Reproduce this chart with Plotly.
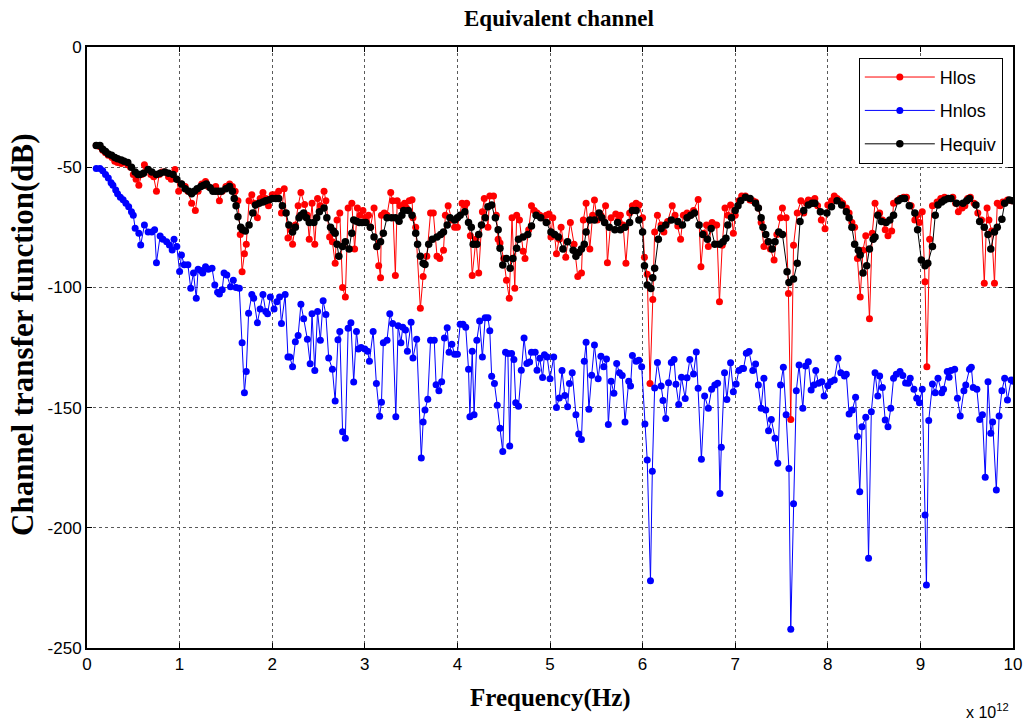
import plotly.graph_objects as go

# ---------------- data (frequency in units of 1e12 Hz, values in dB) ----------------
eq_f = [
    0.10, 0.14, 0.17, 0.20, 0.23, 0.265, 0.30, 0.33, 0.37, 0.40,
    0.44, 0.48, 0.52, 0.55, 0.57, 0.61, 0.66, 0.70, 0.75, 0.79,
    0.84, 0.88, 0.93, 0.97, 1.02, 1.06, 1.10, 1.13, 1.16, 1.19,
    1.23, 1.26, 1.29, 1.33, 1.36, 1.39, 1.42, 1.45, 1.50, 1.54,
    1.57, 1.59, 1.61, 1.63, 1.66, 1.68, 1.71, 1.75, 1.79, 1.82,
    1.86, 1.90, 1.93, 1.97, 2.00, 2.04, 2.07, 2.11, 2.15, 2.18,
    2.22, 2.25, 2.29, 2.31, 2.34, 2.37, 2.40, 2.45, 2.48, 2.51,
    2.56, 2.59, 2.63, 2.66, 2.68, 2.70, 2.72, 2.76, 2.79, 2.83,
    2.86, 2.88, 2.91, 2.94, 2.97, 3.01, 3.06, 3.10, 3.13, 3.17,
    3.20, 3.24, 3.29, 3.33, 3.37, 3.40, 3.42, 3.47, 3.51, 3.55,
    3.57, 3.60, 3.63, 3.65, 3.69, 3.73, 3.78, 3.82, 3.85, 3.89,
    3.92, 3.97, 4.00, 4.03, 4.08, 4.12, 4.15, 4.17, 4.21, 4.23,
    4.26, 4.30, 4.33, 4.37, 4.41, 4.44, 4.46, 4.49, 4.53, 4.57,
    4.60, 4.64, 4.66, 4.71, 4.76, 4.80, 4.85, 4.90, 4.96, 5.01,
    5.05, 5.09, 5.14, 5.19, 5.25, 5.28, 5.31, 5.34, 5.37, 5.39,
    5.43, 5.48, 5.53, 5.56, 5.59, 5.64, 5.70, 5.73, 5.76, 5.81,
    5.86, 5.89, 5.93, 5.96, 6.00, 6.02, 6.05, 6.09, 6.11, 6.13,
    6.17, 6.20, 6.25, 6.31, 6.38, 6.43, 6.48, 6.52, 6.56, 6.61,
    6.65, 6.70, 6.74, 6.78, 6.83, 6.87, 6.90, 6.92, 6.96, 7.00,
    7.03, 7.06, 7.11, 7.16, 7.22, 7.25, 7.28, 7.30, 7.33, 7.36,
    7.40, 7.43, 7.47, 7.51, 7.56, 7.58, 7.63, 7.67, 7.70, 7.74,
    7.79, 7.83, 7.86, 7.92, 7.99, 8.04, 8.10, 8.15, 8.20, 8.23,
    8.26, 8.29, 8.33, 8.35, 8.38, 8.42, 8.45, 8.49, 8.51, 8.54,
    8.58, 8.63, 8.67, 8.71, 8.76, 8.80, 8.83, 8.88, 8.94, 8.97,
    9.01, 9.05, 9.08, 9.13, 9.16, 9.19, 9.23, 9.26, 9.30, 9.33,
    9.39, 9.46, 9.50, 9.53, 9.60, 9.64, 9.69, 9.73, 9.76, 9.80,
    9.83, 9.88, 9.91, 9.96, 10.0,
]
eq_db = [
    -41, -41, -42.5, -43.5, -44.5, -45, -46, -46.5, -47, -47.5,
    -48, -50, -52, -53, -53, -52.5, -51, -52, -53, -52.5,
    -52, -52.5, -53, -55, -57, -59, -60, -61, -60, -59,
    -58, -57.5, -57, -58.5, -60, -60, -60, -60, -59, -58,
    -60, -63, -66, -70.6, -75, -76, -76.5, -74, -69, -65.7,
    -65, -64.5, -64, -63.5, -63, -63, -63, -66, -69, -74,
    -77, -75, -71, -70, -69, -71, -73, -73, -71, -68.5,
    -67, -71, -75, -76.5, -77.5, -82, -87, -83, -81, -84,
    -77.5, -72, -72.5, -73, -73, -73, -75, -79, -83, -81,
    -77.5, -71, -71, -71, -72.5, -70, -68, -68, -70, -77.5,
    -82, -87, -90, -90.5, -82, -80, -79, -78, -77, -74,
    -71, -72, -71, -70, -68.5, -73, -75, -82, -82, -78,
    -74, -71, -66.4, -65.7, -71, -76, -83.7, -90.7, -88, -92,
    -88, -83.7, -80, -79, -78, -74.5, -70, -71, -73, -77,
    -78, -79, -84, -81, -84.5, -87, -85.5, -84, -82, -77,
    -72, -72, -69, -71, -73, -75, -76, -73, -76, -75,
    -73, -68, -68, -72, -77, -91, -99, -100.5, -96, -92,
    -80, -75.5, -74, -72, -72.6, -74, -71, -70, -69, -74,
    -78, -80, -75.5, -82, -82, -81, -79.6, -74, -71, -68,
    -66, -64, -62.5, -63, -65, -67, -71, -75, -78, -81,
    -84, -81, -77, -78, -93.5, -98, -96.5, -90, -72.6, -68,
    -65.7, -65, -65, -68.5, -69, -66.4, -64, -65.7, -68.5, -71,
    -75, -82, -84.5, -86.5, -94, -91, -84, -80, -79, -70,
    -72.6, -73, -72, -70, -64, -63, -63, -66, -69, -76,
    -88.6, -91, -90, -83, -70, -65.7, -64.5, -63.6, -63, -63,
    -65, -65, -64, -63, -65.7, -72.6, -75, -78, -84, -77,
    -75, -71.6, -65, -63.6, -64,
]

los_f = [
    0.10, 0.14, 0.17, 0.20, 0.23, 0.27, 0.30, 0.33, 0.37, 0.40,
    0.44, 0.47, 0.50, 0.53, 0.56, 0.59, 0.62, 0.65, 0.69, 0.72,
    0.75, 0.78, 0.81, 0.84, 0.88, 0.91, 0.95, 0.99, 1.02, 1.06,
    1.09, 1.13, 1.17, 1.20, 1.24, 1.28, 1.31, 1.35, 1.39, 1.43,
    1.46, 1.50, 1.54, 1.57, 1.60, 1.63, 1.655, 1.675, 1.70, 1.72,
    1.75, 1.78, 1.81, 1.84, 1.87, 1.90, 1.93, 1.96, 2.00, 2.03,
    2.07, 2.10, 2.13, 2.17, 2.20, 2.22, 2.25, 2.28, 2.31, 2.35,
    2.38, 2.40, 2.43, 2.46, 2.49, 2.52, 2.56, 2.58, 2.62, 2.65,
    2.68, 2.70, 2.73, 2.76, 2.79, 2.82, 2.86, 2.89, 2.92, 2.95,
    2.98, 3.01, 3.04, 3.06, 3.10, 3.13, 3.15, 3.17, 3.18, 3.21,
    3.24, 3.28, 3.30, 3.33, 3.35, 3.38, 3.40, 3.43, 3.45, 3.48,
    3.51, 3.52, 3.55, 3.60, 3.63, 3.67, 3.71, 3.74, 3.78, 3.81,
    3.85, 3.87, 3.90, 3.94, 3.97, 4.00, 4.05, 4.08, 4.10, 4.14,
    4.16, 4.20, 4.23, 4.27, 4.29, 4.33, 4.35, 4.39, 4.42, 4.44,
    4.46, 4.50, 4.53, 4.56, 4.59, 4.62, 4.64, 4.67, 4.71, 4.73,
    4.77, 4.80, 4.83, 4.86, 4.89, 4.92, 4.96, 4.99, 5.01, 5.03,
    5.07, 5.10, 5.12, 5.17, 5.22, 5.26, 5.30, 5.34, 5.36, 5.39,
    5.43, 5.46, 5.48, 5.51, 5.55, 5.60, 5.62, 5.66, 5.71, 5.74,
    5.76, 5.79, 5.82, 5.86, 5.89, 5.93, 5.96, 6.00, 6.02, 6.05,
    6.08, 6.11, 6.13, 6.16, 6.20, 6.23, 6.27, 6.32, 6.35, 6.38,
    6.41, 6.44, 6.48, 6.51, 6.55, 6.60, 6.63, 6.66, 6.69, 6.71,
    6.75, 6.78, 6.80, 6.83, 6.86, 6.89, 6.92, 6.95, 6.98, 7.00,
    7.04, 7.07, 7.11, 7.16, 7.19, 7.22, 7.25, 7.28, 7.31, 7.35,
    7.38, 7.42, 7.45, 7.49, 7.51, 7.55, 7.575, 7.60, 7.63, 7.67,
    7.71, 7.74, 7.77, 7.79, 7.83, 7.86, 7.89, 7.93, 7.97, 8.00,
    8.04, 8.07, 8.10, 8.13, 8.16, 8.20, 8.23, 8.26, 8.29, 8.32,
    8.35, 8.38, 8.41, 8.45, 8.48, 8.51, 8.56, 8.59, 8.62, 8.65,
    8.69, 8.71, 8.75, 8.78, 8.82, 8.85, 8.90, 8.94, 8.96, 8.99,
    9.02, 9.05, 9.07, 9.10, 9.13, 9.18, 9.22, 9.26, 9.30, 9.35,
    9.38, 9.41, 9.45, 9.48, 9.51, 9.54, 9.58, 9.62, 9.66, 9.69,
    9.72, 9.74, 9.77, 9.80, 9.83, 9.86, 9.89, 9.94, 9.98,
]
los_db = [
    -41, -41.5, -43, -44, -45, -46, -47.5, -48, -48.5, -48,
    -49, -50, -53, -55, -57.5, -53, -49, -51, -53, -54,
    -60, -53, -52, -52, -54, -55, -51, -60, -57, -58,
    -60, -65, -68, -60, -57, -56, -58, -59, -58, -64,
    -60, -58, -57, -58, -60, -64, -78, -93.5, -86, -82,
    -64, -61.5, -65, -71, -63, -60.5, -63, -66, -61.5, -61.5,
    -60, -69, -59, -79.5, -76, -82, -74, -66, -60.5, -65.5,
    -70, -80, -65, -82, -63, -66, -60, -64, -79, -81,
    -90, -72, -69, -100, -104, -67, -65, -84, -67, -70,
    -68, -71, -70, -75, -67, -83, -91, -96, -70, -69,
    -70, -60.5, -64, -95, -64, -66, -66, -65, -67, -64,
    -63.5, -71, -75, -108.7, -95.5, -87, -69, -69, -87, -88,
    -84.5, -70, -66, -72, -75, -75, -65, -66, -65, -78.5,
    -95, -80, -94, -68.5, -63, -75, -62, -62, -70, -80,
    -81.5, -88, -97, -104.5, -71, -100.4, -70, -72, -85, -88,
    -76, -66, -68, -69, -70, -71, -70, -69.5, -79, -71,
    -86, -80, -75, -87.5, -73, -82, -95.5, -94, -72, -65,
    -84, -70, -63.6, -72, -70, -66, -89.7, -71, -69.5, -72,
    -70, -74, -90, -69, -66, -65, -65.7, -71, -87.5, -94.5,
    -140, -105, -77, -70, -74, -77, -72.6, -66, -70, -74.5,
    -80, -70, -69, -70, -68, -63.4, -91.4, -77.5, -74, -83,
    -73, -74, -74, -106, -82.5, -67, -70, -65.7, -77.5, -70,
    -64, -62, -62, -63.6, -64, -64.5, -67, -73, -83, -81,
    -84, -88.6, -78, -71, -67, -71, -102.5, -155, -82.5, -69,
    -64, -69, -65, -63.6, -64, -63, -66, -72, -75.6, -65.7,
    -64, -62, -63, -64, -65, -67, -69, -73, -75, -88,
    -104, -84.5, -78.5, -113, -77.5, -65, -69, -72, -76, -78.5,
    -76.5, -65, -64, -63, -62.5, -62.5, -66, -72, -70, -73,
    -68.5, -97.6, -133, -80, -66, -64.5, -63, -62.5, -63, -62.5,
    -65, -68.5, -67, -66, -63, -62.5, -65, -69, -72, -98.3,
    -67, -72, -76.5, -98.3, -65, -66, -64.5, -63.6, -64,
]

nlos_f = [
    0.10, 0.14, 0.17, 0.20, 0.23, 0.26, 0.28, 0.31, 0.33, 0.36,
    0.39, 0.42, 0.45, 0.48, 0.50, 0.52, 0.56, 0.58, 0.62, 0.66,
    0.70, 0.73, 0.75, 0.79, 0.82, 0.86, 0.89, 0.92, 0.94, 0.97,
    1.00, 1.02, 1.05, 1.09, 1.12, 1.15, 1.18, 1.20, 1.23, 1.25,
    1.28, 1.31, 1.35, 1.38, 1.41, 1.43, 1.46, 1.48, 1.51, 1.55,
    1.58, 1.61, 1.645, 1.675, 1.70, 1.72, 1.745, 1.78, 1.80, 1.84,
    1.87, 1.90, 1.93, 1.95, 1.98, 2.02, 2.05, 2.08, 2.10, 2.14,
    2.17, 2.19, 2.22, 2.25, 2.28, 2.31, 2.34, 2.38, 2.41, 2.43,
    2.46, 2.49, 2.52, 2.55, 2.58, 2.61, 2.65, 2.68, 2.71, 2.73,
    2.76, 2.79, 2.82, 2.85, 2.88, 2.91, 2.93, 2.96, 3.00, 3.03,
    3.05, 3.09, 3.125, 3.16, 3.18, 3.20, 3.24, 3.27, 3.30, 3.335,
    3.36, 3.39, 3.41, 3.44, 3.46, 3.50, 3.52, 3.56, 3.61, 3.63,
    3.65, 3.68, 3.71, 3.75, 3.77, 3.80, 3.83, 3.86, 3.89, 3.91,
    3.94, 3.97, 4.00, 4.03, 4.06, 4.09, 4.12, 4.135, 4.16, 4.18,
    4.21, 4.24, 4.27, 4.30, 4.33, 4.35, 4.37, 4.40, 4.43, 4.46,
    4.49, 4.52, 4.545, 4.565, 4.585, 4.61, 4.63, 4.66, 4.69, 4.72,
    4.75, 4.78, 4.80, 4.84, 4.86, 4.89, 4.92, 4.94, 4.97, 5.00,
    5.04, 5.07, 5.10, 5.13, 5.16, 5.19, 5.21, 5.24, 5.28, 5.31,
    5.34, 5.37, 5.39, 5.42, 5.45, 5.48, 5.52, 5.55, 5.58, 5.61,
    5.63, 5.66, 5.69, 5.72, 5.75, 5.78, 5.81, 5.85, 5.87, 5.89,
    5.93, 5.96, 5.99, 6.025, 6.05, 6.085, 6.105, 6.13, 6.16, 6.20,
    6.22, 6.25, 6.28, 6.31, 6.34, 6.36, 6.39, 6.42, 6.46, 6.48,
    6.51, 6.55, 6.58, 6.60, 6.635, 6.67, 6.71, 6.745, 6.78, 6.81,
    6.835, 6.85, 6.885, 6.91, 6.95, 6.98, 7.01, 7.04, 7.075, 7.09,
    7.12, 7.15, 7.19, 7.22, 7.25, 7.28, 7.31, 7.33, 7.36, 7.39,
    7.43, 7.46, 7.49, 7.52, 7.55, 7.58, 7.60, 7.63, 7.66, 7.69,
    7.73, 7.76, 7.79, 7.82, 7.85, 7.87, 7.90, 7.935, 7.96, 8.00,
    8.03, 8.07, 8.11, 8.14, 8.18, 8.20, 8.23, 8.265, 8.30, 8.32,
    8.345, 8.37, 8.41, 8.44, 8.47, 8.51, 8.54, 8.56, 8.59, 8.62,
    8.65, 8.68, 8.71, 8.74, 8.78, 8.81, 8.84, 8.87, 8.89, 8.93,
    8.96, 8.99, 9.02, 9.05, 9.065, 9.09, 9.13, 9.16, 9.19, 9.23,
    9.25, 9.29, 9.31, 9.33, 9.37, 9.40, 9.43, 9.47, 9.49, 9.53,
    9.55, 9.57, 9.61, 9.64, 9.67, 9.70, 9.73, 9.76, 9.78, 9.82,
    9.85, 9.88, 9.91, 9.94, 9.98, 10.0,
]
nlos_db = [
    -50.5, -50.5, -51.5, -53, -54.5, -56.5, -57.5, -59.5, -61, -62.5,
    -63.5, -65, -66.5, -68.5, -70, -75.4, -77.5, -82.4, -74, -77,
    -77, -76, -89.7, -78.6, -80, -81, -82.4, -84.4, -80, -83,
    -93.4, -86.5, -90.6, -90.6, -100.4, -94, -104.5, -92.5, -93, -94,
    -91.4, -92.5, -92, -99, -102, -102.7, -101, -94, -94.8, -99.7,
    -97, -100, -100.4, -123, -143.8, -135, -110.8, -103, -104.5, -114.7,
    -109, -103, -110, -111, -104, -109, -106, -104, -115, -103,
    -129, -129, -133, -122.6, -120, -107, -113, -121.6, -131.8, -111,
    -134.6, -110, -122, -105.6, -111.3, -129.4, -134, -147.3, -121.8, -118.3,
    -160, -162.8, -117, -114.7, -139.3, -118.3, -125.6, -125, -125.6, -126.6,
    -130.7, -118.3, -140, -153.6, -147.8, -123, -122, -111, -115, -153.8,
    -116, -123, -116.6, -117.7, -126.6, -114.5, -129.4, -121.6, -171, -156,
    -151, -146.5, -122, -122, -140.5, -143, -139.2, -121, -116.8, -127,
    -123.7, -127.8, -127.8, -115.3, -115.3, -116.6, -134, -153.8, -126.6, -153,
    -122, -114, -129, -112.6, -112.6, -118, -137, -140, -149, -158.6,
    -168.3, -127, -127.5, -166, -127.5, -130, -148, -149.4, -134.5, -121,
    -131.7, -131, -127, -127, -134.5, -129.5, -137.5, -128, -129, -138,
    -129, -150, -146, -134.6, -145, -149.6, -140, -135.5, -153, -161,
    -163.3, -130.7, -122.8, -150.7, -136.5, -124, -138, -128.6, -133, -129.8,
    -157, -139, -144, -131.7, -135.5, -136.6, -156, -139, -141, -128.3,
    -130.7, -130.3, -133, -156.8, -171.8, -222, -176.5, -141.8, -131.2, -141,
    -147, -154.5, -139.7, -131.2, -130, -140.3, -148.7, -137.4, -146.2, -137.6,
    -130, -136, -126.9, -141.9, -171.5, -145.2, -150.3, -142.4, -140.6, -139.9,
    -185.7, -166.5, -135.5, -146.6, -131.3, -143.4, -140.2, -134.6, -133.7, -133.7,
    -127.4, -126.7, -134.6, -131.9, -140.6, -150.3, -137.8, -151, -159.6, -154.9,
    -162.8, -173.2, -140.6, -133.2, -153, -175.3, -242.2, -190, -143, -132.3,
    -150.3, -132.7, -130.9, -142.7, -140.6, -134.6, -139.9, -139.2, -145.2, -140.9,
    -139.2, -138.5, -129.5, -135.5, -136.9, -136.1, -152.7, -151, -145.7, -162,
    -185, -158, -154, -212.7, -151.7, -135.5, -145.2, -136.9, -141.6, -155.2,
    -158, -150.3, -137.8, -136.1, -135, -136.6, -139.8, -139.9, -137.8, -142.4,
    -146.1, -148, -142.4, -194.7, -223.8, -155.4, -140.2, -143.8, -137.8, -143.8,
    -142.4, -135, -137.4, -134.6, -134, -146.1, -153.5, -143, -140.6, -134,
    -133.2, -141.6, -142.4, -154.9, -153, -179, -139.2, -160.7, -156, -184.3,
    -153.5, -143, -137.8, -146.8, -138.5, -139,
]

series_names = ["Hlos", "Hnlos", "Hequiv"]
series_colors = ["#ff0000", "#0000ff", "#000000"]

x_ticks = list(range(0, 11))
y_ticks = [0, -50, -100, -150, -200, -250]
y_tick_text = ["0", "-50", "-100", "-150", "-200", "-250"]

# ---------------- figure ----------------
fig = go.Figure()
for name, color, fx, fy, msize in [
    (series_names[0], series_colors[0], los_f, los_db, 7),
    (series_names[1], series_colors[1], nlos_f, nlos_db, 7),
    (series_names[2], series_colors[2], eq_f, eq_db, 7.5),
]:
    fig.add_trace(go.Scatter(
        x=fx, y=fy, mode="lines+markers", name=name, legendgroup=name,
        line=dict(color=color, width=1),
        marker=dict(color=color, size=msize, line=dict(width=0)),
    ))

axis_common = dict(
    showline=True, linecolor="black", linewidth=2, mirror="ticks",
    ticks="inside", ticklen=5, tickcolor="black", tickwidth=1,
    showgrid=True, gridcolor="#5a5a5a", griddash="dot", gridwidth=1,
    zeroline=False,
    tickfont=dict(family="Liberation Sans, Arial, sans-serif", size=17, color="black"),
)

fig.update_xaxes(range=[0, 10], tickvals=x_ticks, ticktext=[str(v) for v in x_ticks], **axis_common)
fig.update_yaxes(range=[-250, 0], tickvals=y_ticks, ticktext=y_tick_text, **axis_common)

serif = "Liberation Serif, Times New Roman, serif"
fig.update_layout(
    width=1031, height=727,
    margin=dict(l=87, r=9, t=47, b=79),
    paper_bgcolor="white", plot_bgcolor="white",
    showlegend=True,
    legend=dict(
        x=0.8335, y=0.982, xanchor="left", yanchor="top",
        bgcolor="white", bordercolor="black", borderwidth=1,
        traceorder="grouped", tracegroupgap=7, itemwidth=70,
        font=dict(family="Liberation Sans, Arial, sans-serif", size=18, color="black"),
    ),
    annotations=[
        dict(text="<b>Equivalent channel</b>", xref="paper", yref="paper",
             x=0.51, y=1.048, xanchor="center", yanchor="middle", showarrow=False,
             font=dict(family=serif, size=23, color="black")),
        dict(text="<b>Frequency(Hz)</b>", xref="paper", yref="paper",
             x=0.5, y=-0.083, xanchor="center", yanchor="middle", showarrow=False,
             font=dict(family=serif, size=25, color="black")),
        dict(text="<b>Channel transfer function(dB)</b>", xref="paper", yref="paper",
             x=-0.069, y=0.521, xanchor="center", yanchor="middle", showarrow=False,
             textangle=-90, font=dict(family=serif, size=31, color="black")),
        dict(text="x 10<sup>12</sup>", xref="paper", yref="paper",
             x=0.972, y=-0.105, xanchor="center", yanchor="middle", showarrow=False,
             font=dict(family="Liberation Sans, Arial, sans-serif", size=16, color="black")),
    ],
)

fig.write_html(
    "out.html",
    config={"displayModeBar": False},
    post_script="document.body.style.margin='0';document.body.style.overflow='hidden';",
)
